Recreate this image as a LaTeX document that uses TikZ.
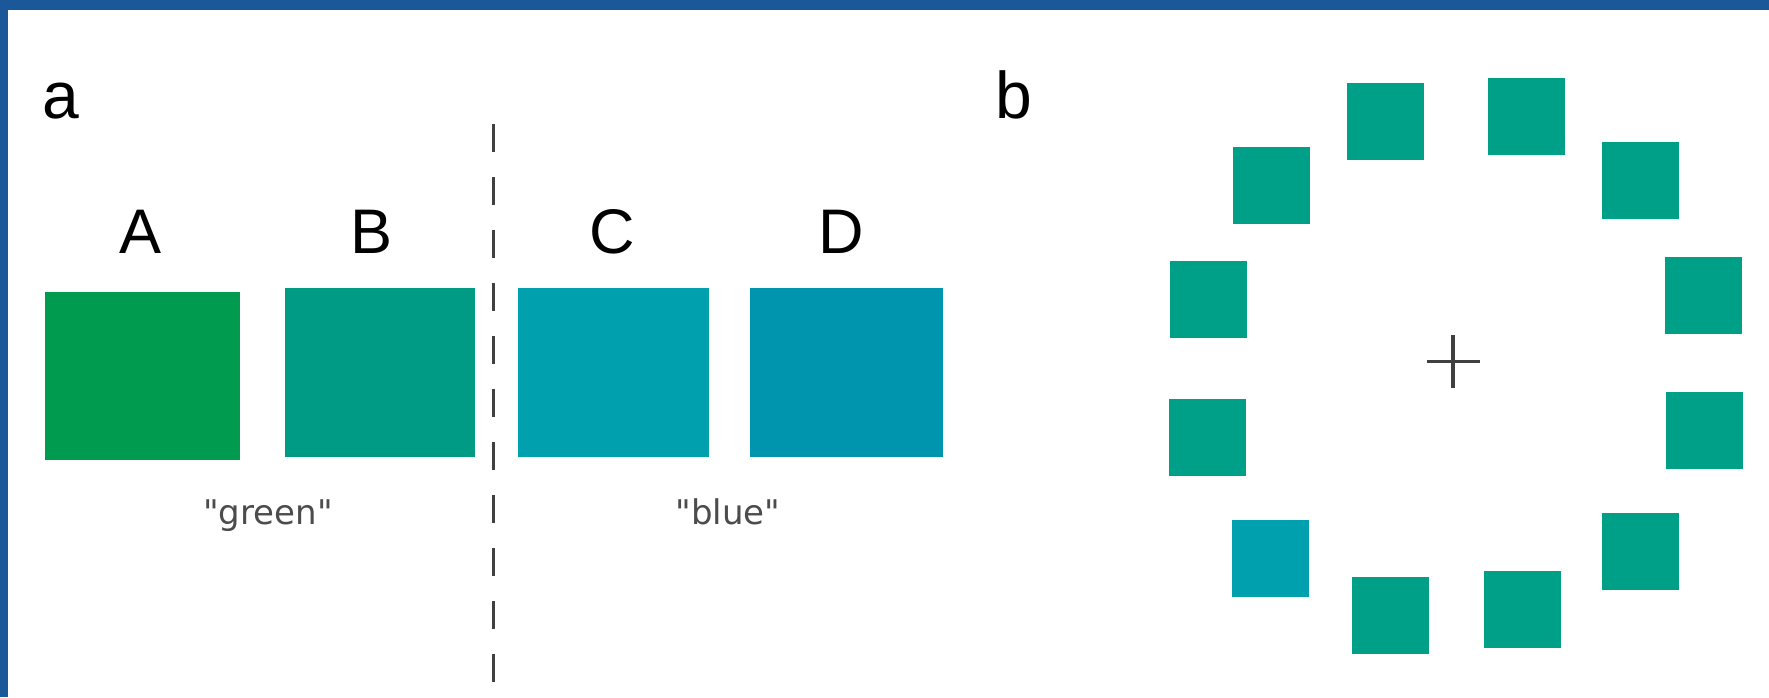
\documentclass[tikz,border=0pt]{standalone}
\usepackage{fontspec}
\setmainfont{Liberation Sans}
\newfontfamily\captionfont{DejaVu Sans}

\definecolor{frameblue}{RGB}{26,88,154}
\definecolor{swA}{RGB}{0,155,78}
\definecolor{swB}{RGB}{0,155,133}
\definecolor{swC}{RGB}{0,160,175}
\definecolor{swD}{RGB}{0,149,175}
\definecolor{ringgreen}{RGB}{0,160,136}
\definecolor{ringblue}{RGB}{0,160,175}

\begin{document}
\begin{tikzpicture}[x=1pt,y=-1pt,
  patch/.style={draw=none, inner sep=0pt, outer sep=0pt},
  ringsq/.style={draw=none, inner sep=0pt, outer sep=0pt,
    minimum width=77pt, minimum height=77pt, fill=ringgreen},
  swlabel/.style={font=\fontsize{63}{63}\selectfont, anchor=base, inner sep=0pt},
  panel/.style={font=\fontsize{66}{66}\selectfont, anchor=base west, inner sep=0pt},
  cname/.style={font=\captionfont\fontsize{34}{34}\selectfont, text=black!70,
    anchor=base, inner sep=0pt},
  divider/.style={draw=black!75, line width=3pt, dash pattern=on 28pt off 25pt},
  fixmark/.style={draw=black!75, line width=3.5pt}]

  % canvas and the blue frame along the top and left edges
  \useasboundingbox (0,0) rectangle (1769,697);
  \fill[white] (0,0) rectangle (1769,697);
  \fill[frameblue] (0,0) rectangle (1769,10);
  \fill[frameblue] (0,0) rectangle (8,697);

  % panel a: four colour swatches
  \node[panel] (pa) at (42,118) {a};
  \node[patch, fill=swA, minimum width=195pt, minimum height=168pt] (A) at (142.5,376) {};
  \node[patch, fill=swB, minimum width=190pt, minimum height=169pt] (B) at (380,372.5) {};
  \node[patch, fill=swC, minimum width=191pt, minimum height=169pt] (C) at (613.5,372.5) {};
  \node[patch, fill=swD, minimum width=193pt, minimum height=169pt] (D) at (846.5,372.5) {};

  \node[swlabel] (lA) at (141,253) {A};
  \node[swlabel] (lB) at (372,253) {B};
  \node[swlabel] (lC) at (612,253) {C};
  \node[swlabel] (lD) at (841,253) {D};

  \node[cname] (green) at (268,524) {"green"};
  \node[cname] (blue) at (728,524) {"blue"};

  % category boundary
  \coordinate (dtop) at (493,124);
  \coordinate (dbot) at (493,682);
  \draw[divider] (dtop) -- (dbot);

  % panel b: ring of twelve squares around a fixation cross
  \node[panel] (pb) at (995,118) {b};
  \node[ringsq] (r1)  at (1271.5,185.5) {};
  \node[ringsq] (r2)  at (1385.5,121) {};
  \node[ringsq] (r3)  at (1526.5,116) {};
  \node[ringsq] (r4)  at (1640.5,180) {};
  \node[ringsq] (r5)  at (1208.5,299.5) {};
  \node[ringsq] (r6)  at (1703,295) {};
  \node[ringsq] (r7)  at (1207.5,437) {};
  \node[ringsq] (r8)  at (1704.5,430.5) {};
  \node[ringsq, fill=ringblue] (r9) at (1270,558) {};
  \node[ringsq] (r10) at (1390,615) {};
  \node[ringsq] (r11) at (1522.5,609.5) {};
  \node[ringsq] (r12) at (1640.5,551) {};

  \coordinate (fix) at (1453,361.5);
  \draw[fixmark] ([xshift=-26.5pt]fix) -- ([xshift=26.5pt]fix);
  \draw[fixmark] ([yshift=-26.5pt]fix) -- ([yshift=26.5pt]fix);
\end{tikzpicture}
\end{document}
